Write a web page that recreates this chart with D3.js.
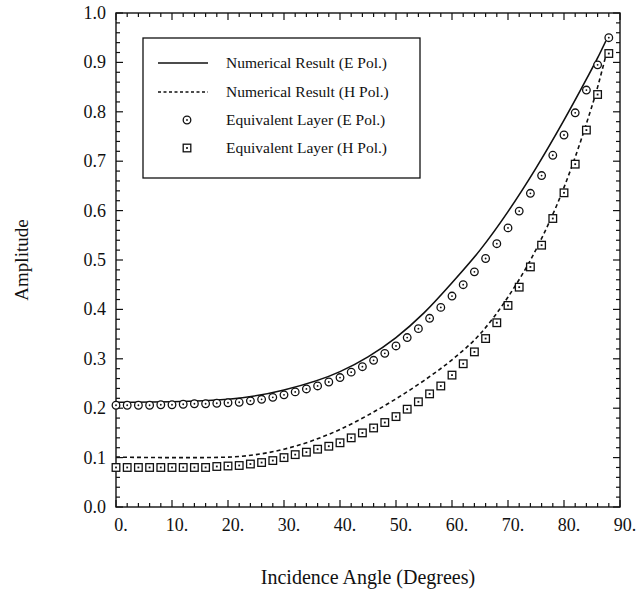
<!DOCTYPE html>
<html><head><meta charset="utf-8">
<script src="https://cdn.jsdelivr.net/npm/d3@7"></script>
<style>
html,body{margin:0;padding:0;background:#fff;}
svg text{font-family:"Liberation Serif","Times New Roman",serif;fill:#111;}
</style></head>
<body><svg id="c" width="637" height="595"></svg>
<script>
// ---- data ----
const xTicks = [0,10,20,30,40,50,60,70,80,90];
const xTickLabels = ["0.","10.","20.","30.","40.","50.","60.","70.","80.","90."];
const yTicks = [0,0.1,0.2,0.3,0.4,0.5,0.6,0.7,0.8,0.9,1.0];
const yTickLabels = ["0.0","0.1","0.2","0.3","0.4","0.5","0.6","0.7","0.8","0.9","1.0"];

// Numerical Result (E Pol.) - solid line
const numE_angle = [0,10,20,30,40,45,50,55,60,65,70,75,80,84,86,87.5];
const numE_amp   = [.212,.213,.218,.237,.274,.304,.343,.393,.454,.520,.598,.686,.783,.866,.909,.944];

// Numerical Result (H Pol.) - dashed line
const numH_angle = [0,10,15,20,25,30,35,40,45,50,55,60,65,70,75,80,84,86,87.5];
const numH_amp   = [.101,.100,.100,.101,.106,.117,.134,.157,.186,.219,.256,.298,.350,.425,.521,.647,.776,.850,.915];

// Equivalent Layer markers, every 2 degrees from 0 to 88
const eqAngle = [0,2,4,6,8,10,12,14,16,18,20,22,24,26,28,30,32,34,36,38,40,42,44,46,48,50,52,54,56,58,60,62,64,66,68,70,72,74,76,78,80,82,84,86,88];
const eqE_amp = [.206,.206,.206,.206,.207,.207,.208,.209,.209,.210,.211,.212,.215,.218,.222,.227,.233,.239,.245,.253,.262,.273,.284,.297,.311,.326,.343,.361,.382,.404,.427,.450,.476,.503,.533,.565,.599,.635,.671,.712,.753,.798,.844,.895,.950];
const eqH_amp = [.080,.080,.080,.080,.080,.080,.080,.080,.080,.082,.083,.084,.087,.090,.094,.100,.106,.111,.117,.123,.130,.140,.150,.160,.171,.183,.198,.213,.229,.245,.267,.290,.314,.341,.373,.408,.445,.486,.530,.584,.636,.694,.763,.835,.918];

const legendLabels = ["Numerical Result (E Pol.)","Numerical Result (H Pol.)","Equivalent Layer (E Pol.)","Equivalent Layer (H Pol.)"];

// ---- drawing ----
const svg = d3.select("#c");
const L=116, R=620, T=13, B=507;
const x = d3.scaleLinear().domain([0,90]).range([L,R]);
const y = d3.scaleLinear().domain([0,1]).range([B,T]);
const ink = "#111";

const plot = svg.append("g");
plot.append("rect").attr("x",L).attr("y",T).attr("width",R-L).attr("height",B-T)
  .attr("fill","none").attr("stroke",ink).attr("stroke-width",1.4);

const xMinor = d3.range(0,90.001,2), yMinor = d3.range(0,1.0001,0.02);
const isMajX = v => Math.abs(v/10-Math.round(v/10))<1e-6;
const isMajY = v => Math.abs(v*10-Math.round(v*10))<1e-6;
xMinor.forEach(v=>{
  const len = isMajX(v)?7:4;
  plot.append("line").attr("x1",x(v)).attr("x2",x(v)).attr("y1",B).attr("y2",B-len).attr("stroke",ink).attr("stroke-width",1.2);
  plot.append("line").attr("x1",x(v)).attr("x2",x(v)).attr("y1",T).attr("y2",T+len).attr("stroke",ink).attr("stroke-width",1.2);
});
yMinor.forEach(v=>{
  const len = isMajY(v)?7:4;
  plot.append("line").attr("y1",y(v)).attr("y2",y(v)).attr("x1",L).attr("x2",L+len).attr("stroke",ink).attr("stroke-width",1.2);
  plot.append("line").attr("y1",y(v)).attr("y2",y(v)).attr("x1",R).attr("x2",R-len).attr("stroke",ink).attr("stroke-width",1.2);
});

svg.selectAll(".xl").data(xTicks).enter().append("text")
  .attr("x",d=>x(d)+5).attr("y",531).attr("text-anchor","middle")
  .attr("font-size",18).text((d,i)=>xTickLabels[i]);
svg.selectAll(".yl").data(yTicks).enter().append("text")
  .attr("x",106).attr("y",d=>y(d)+6).attr("text-anchor","end")
  .attr("font-size",18).text((d,i)=>yTickLabels[i]);

svg.append("text").attr("x",(L+R)/2).attr("y",584).attr("text-anchor","middle")
  .attr("font-size",20).text("Incidence Angle (Degrees)");
svg.append("text").attr("transform",`translate(28,${(T+B)/2}) rotate(-90)`)
  .attr("text-anchor","middle").attr("font-size",19).text("Amplitude");

const line = d3.line().x(d=>x(d[0])).y(d=>y(d[1])).curve(d3.curveMonotoneX);
plot.append("path").datum(numE_angle.map((a,i)=>[a,numE_amp[i]]))
  .attr("d",line).attr("fill","none").attr("stroke",ink).attr("stroke-width",1.6);
plot.append("path").datum(numH_angle.map((a,i)=>[a,numH_amp[i]]))
  .attr("d",line).attr("fill","none").attr("stroke",ink).attr("stroke-width",1.6)
  .attr("stroke-dasharray","4,3");

function circleMarker(g,cx,cy){
  g.append("circle").attr("cx",cx).attr("cy",cy).attr("r",3.8).attr("fill","#fff").attr("stroke",ink).attr("stroke-width",1.3);
  g.append("circle").attr("cx",cx).attr("cy",cy).attr("r",0.9).attr("fill",ink);
}
function squareMarker(g,cx,cy){
  g.append("rect").attr("x",cx-3.8).attr("y",cy-3.8).attr("width",7.6).attr("height",7.6).attr("fill","#fff").attr("stroke",ink).attr("stroke-width",1.3);
  g.append("rect").attr("x",cx-0.9).attr("y",cy-0.9).attr("width",1.8).attr("height",1.8).attr("fill",ink);
}
const mk = plot.append("g");
eqAngle.forEach((a,i)=>circleMarker(mk,x(a),y(eqE_amp[i])));
eqAngle.forEach((a,i)=>squareMarker(mk,x(a),y(eqH_amp[i])));

const lg = svg.append("g");
lg.append("rect").attr("x",143).attr("y",38).attr("width",277).attr("height",140)
  .attr("fill","#fff").attr("stroke",ink).attr("stroke-width",1.3);
const rowY = [63,92,120,148];
lg.append("line").attr("x1",158).attr("x2",208).attr("y1",rowY[0]).attr("y2",rowY[0]).attr("stroke",ink).attr("stroke-width",1.5);
lg.append("line").attr("x1",158).attr("x2",208).attr("y1",rowY[1]).attr("y2",rowY[1]).attr("stroke",ink).attr("stroke-width",1.3).attr("stroke-dasharray","3,2.5");
circleMarker(lg,187,rowY[2]);
squareMarker(lg,187,rowY[3]);
legendLabels.forEach((t,i)=>{
  lg.append("text").attr("x",226).attr("y",rowY[i]+5).attr("font-size",15.5).text(t);
});
</script></body></html>
